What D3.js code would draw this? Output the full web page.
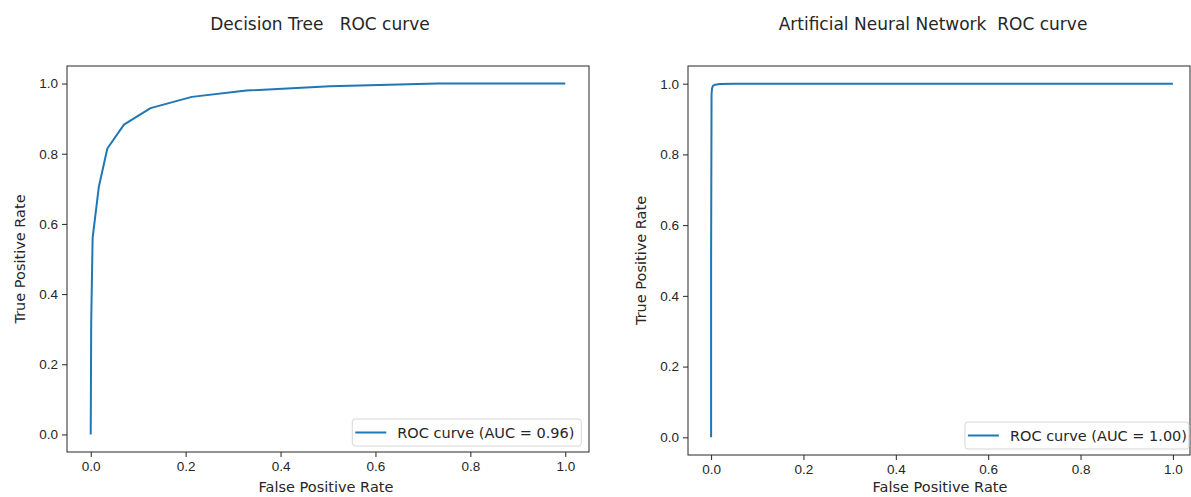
<!DOCTYPE html>
<html>
<head>
<meta charset="utf-8">
<script src="https://cdn.jsdelivr.net/npm/d3@7"></script>
<style>
  body { margin: 0; background: #fff; }
  svg { display: block; font-family: "DejaVu Sans", sans-serif; }
  .tick text { fill: #262626; font-size: 13.5px; }
  .lbl { fill: #262626; font-size: 14.5px; }
  .ttl { fill: #262626; font-size: 17px; white-space: pre; }
</style>
</head>
<body>
<svg id="chart" width="1191" height="497"></svg>
<script>
// decision tree roc points
var dtFpr = [0, 0.001, 0.004, 0.017, 0.035, 0.07, 0.126, 0.213, 0.328, 0.504, 0.731, 1.0];
var dtTpr = [0, 0.32, 0.56, 0.705, 0.815, 0.883, 0.93, 0.962, 0.98, 0.992, 1.0, 1.0];
// neural network roc points
var annFpr = [0, 0, 0.001, 0.002, 0.004, 0.008, 0.02, 0.05, 1.0];
var annTpr = [0, 0.5, 0.97, 0.986, 0.994, 0.997, 0.999, 1.0, 1.0];
var ticks = [0, 0.2, 0.4, 0.6, 0.8, 1.0];
var titles = ["Decision Tree   ROC curve", "Artificial Neural Network  ROC curve"];
var legends = ["ROC curve (AUC = 0.96)", "ROC curve (AUC = 1.00)"];

var svg = d3.select("#chart");
var blue = "#1f77b4";

var panels = [
  {x0: 67, x1: 589, frameR: 589, y0: 66, y1: 452, fpr: dtFpr, tpr: dtTpr, title: titles[0], legend: legends[0], titleDx: -8, legW: 229},
  {x0: 688, x1: 1196, frameR: 1190, y0: 66, y1: 455, fpr: annFpr, tpr: annTpr, title: titles[1], legend: legends[1], titleDx: -9, legW: 224}
];

panels.forEach(function(p) {
  var x = d3.scaleLinear().domain([-0.05, 1.05]).range([p.x0, p.x1]);
  var y = d3.scaleLinear().domain([-0.05, 1.05]).range([p.y1, p.y0]);

  var g = svg.append("g");

  var pts = p.fpr.map(function(d, i) { return [d, p.tpr[i]]; });
  var line = d3.line()
    .x(function(d) { return x(d[0]); })
    .y(function(d) { return y(d[1]); });

  g.append("path")
    .datum(pts)
    .attr("d", line)
    .attr("fill", "none")
    .attr("stroke", blue)
    .attr("stroke-width", 2)
    .attr("stroke-linejoin", "round");

  var xAxis = d3.axisBottom(x).tickValues(ticks).tickFormat(d3.format(".1f")).tickSize(5).tickPadding(4);
  var yAxis = d3.axisLeft(y).tickValues(ticks).tickFormat(d3.format(".1f")).tickSize(5).tickPadding(4);

  var gx = g.append("g").attr("transform", "translate(0," + p.y1 + ")").call(xAxis);
  var gy = g.append("g").attr("transform", "translate(" + p.x0 + ",0)").call(yAxis);
  [gx, gy].forEach(function(a) {
    a.select(".domain").remove();
    a.selectAll(".tick line").attr("stroke", "#262626");
    a.selectAll(".tick text").attr("font-family", null).attr("font-size", null);
  });

  // frame
  g.append("rect")
    .attr("x", p.x0).attr("y", p.y0)
    .attr("width", p.frameR - p.x0).attr("height", p.y1 - p.y0)
    .attr("fill", "none").attr("stroke", "#262626").attr("stroke-width", 1);

  g.append("text").attr("class", "lbl")
    .attr("x", (p.x0 + p.x1) / 2 - 2).attr("y", 492)
    .attr("text-anchor", "middle").text("False Positive Rate");

  g.append("text").attr("class", "lbl")
    .attr("transform", "translate(" + (p.x0 - 42) + "," + ((p.y0 + p.y1) / 2) + ") rotate(-90)")
    .attr("text-anchor", "middle").text("True Positive Rate");

  g.append("text").attr("class", "ttl")
    .attr("x", (p.x0 + p.x1) / 2 + p.titleDx).attr("y", 30)
    .attr("text-anchor", "middle").text(p.title);

  // legend
  var lx = x(1.0) + 16 - p.legW, ly = p.y1 - 33;
  var leg = g.append("g").attr("transform", "translate(" + lx + "," + ly + ")");
  leg.append("rect").attr("width", p.legW).attr("height", 27).attr("rx", 3)
    .attr("fill", "#fff").attr("fill-opacity", 0.8).attr("stroke", "#d6d6d6");
  leg.append("line").attr("x1", 3).attr("x2", 34).attr("y1", 13.5).attr("y2", 13.5)
    .attr("stroke", blue).attr("stroke-width", 2);
  leg.append("text").attr("class", "lbl").attr("x", 45).attr("y", 18.5).text(p.legend);
});
</script>
</body>
</html>
